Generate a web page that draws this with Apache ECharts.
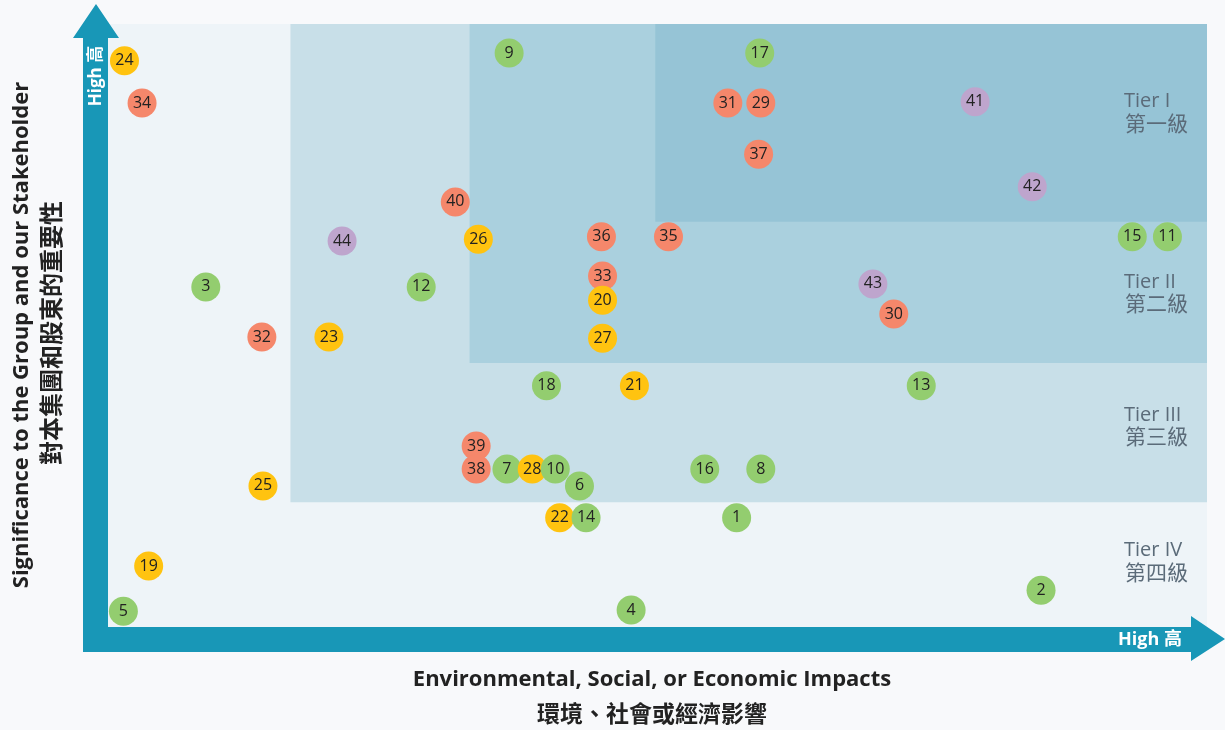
<!DOCTYPE html>
<html><head><meta charset="utf-8">
<script src="https://cdn.jsdelivr.net/npm/echarts@6/dist/echarts.min.js"></script>
<style>html,body{margin:0;padding:0;background:#f8f9fb;}#c{width:1225px;height:730px;}</style>
</head><body><div id="c"></div>
<script>
// Topic numbers, in drawing order (later ones sit on top)
const topicIds = [24,34,9,17,31,29,41,37,42,40,44,26,36,35,15,11,3,12,33,20,43,30,32,23,27,18,21,13,39,38,7,28,10,6,16,8,25,22,14,1,19,2,5,4];
// Impact (x, 0-100) and significance (y, 0-100)
const impactX = [1.5,3.1,36.5,59.3,56.4,59.4,78.9,59.2,84.1,31.6,21.3,33.7,44.9,51.0,93.2,96.4,8.9,28.5,45.0,45.0,69.6,71.5,14.0,20.1,45.0,39.9,47.9,74.0,33.5,33.5,36.3,38.6,40.7,42.9,54.3,59.4,14.1,41.1,43.5,57.2,3.7,84.9,1.4,47.6];
const significanceY = [93.9,86.9,95.2,95.2,86.9,86.9,87.1,78.4,73.0,70.5,64.0,64.3,64.7,64.7,64.7,64.7,56.4,56.4,58.2,54.2,56.9,51.9,48.1,48.1,47.9,40.0,40.0,40.0,30.0,26.2,26.2,26.2,26.2,23.4,26.2,26.2,23.4,18.1,18.1,18.1,10.1,6.1,2.6,2.8];
// Category groups
const groupNames = ['green','yellow','red','purple'];
const groupColors = ['#93cd6f','#ffc310','#f5876b','#bea5cd'];
const groupRanges = [[1,18],[19,28],[29,40],[41,44]];
// Tier boundaries (lower-left corner of each tier zone, zones extend to top-right)
const tierNames = ['Tier IV','Tier III','Tier II','Tier I'];
const tierNamesZh = ['第四級','第三級','第二級','第一級'];
const tierX = [0, 16.6, 32.9, 49.8];
const tierY = [0, 20.7, 43.8, 67.2];
const tierColors = ['#eef4f8','#c8dfe8','#aad0de','#96c4d6'];
// Axis titles
const xTitle = 'Environmental, Social, or Economic Impacts';
const xTitleZh = '環境、社會或經濟影響';
const yTitle = 'Significance to the Group and our Stakeholder';
const yTitleZh = '對本集團和股東的重要性';
const highLabel = 'High 高';

function groupOf(id){for(let g=0;g<groupRanges.length;g++){if(id>=groupRanges[g][0]&&id<=groupRanges[g][1])return g;}return 0;}
const points = topicIds.map((id,i)=>({value:[impactX[i],significanceY[i]],name:String(id),itemStyle:{color:groupColors[groupOf(id)],opacity:1}}));
const tierAreas = tierX.map((x,i)=>[{xAxis:x,yAxis:tierY[i],itemStyle:{color:tierColors[i],opacity:1}},{xAxis:100,yAxis:100}]);

const chart = echarts.init(document.getElementById('c'));
const F = '"Open Sans","Noto Sans","Noto Sans CJK TC",sans-serif';
const AC = '#1897b7';
const tierLabelY = [[550,574],[415,438],[282,305],[101,125]];
const graphics = [
  {type:'polygon',z:10,shape:{points:[[83,652],[83,38],[73,38],[96,4],[119,38],[108,38],[108,627],[1191,627],[1191,616],[1225,639],[1191,661],[1191,652]]},style:{fill:AC}},
  {type:'text',z:11,x:96,y:76,rotation:Math.PI/2,style:{text:highLabel,fill:'#fff',font:'bold 17px '+F,textAlign:'center',textVerticalAlign:'middle'}},
  {type:'text',z:11,x:1150,y:640,style:{text:highLabel,fill:'#fff',font:'bold 18px '+F,textAlign:'center',textVerticalAlign:'middle'}},
  {type:'text',x:652,y:680,style:{text:xTitle,fill:'#222',font:'bold 22px '+F,textAlign:'center',textVerticalAlign:'middle'}},
  {type:'text',x:652,y:715,style:{text:xTitleZh,fill:'#222',font:'bold 23px '+F,textAlign:'center',textVerticalAlign:'middle'}},
  {type:'text',x:22,y:335,rotation:Math.PI/2,style:{text:yTitle,fill:'#222',font:'bold 22px '+F,textAlign:'center',textVerticalAlign:'middle'}},
  {type:'text',x:53,y:333,rotation:Math.PI/2,style:{text:yTitleZh,fill:'#222',font:'bold 24px '+F,textAlign:'center',textVerticalAlign:'middle'}}
];
tierNames.forEach((t,i)=>{
  graphics.push({type:'text',z:5,x:1124,y:tierLabelY[i][0],style:{text:t,fill:'#5b6b79',font:'20px '+F,textVerticalAlign:'middle'}});
  graphics.push({type:'text',z:5,x:1125,y:tierLabelY[i][1],style:{text:tierNamesZh[i],fill:'#5b6b79',font:'21px '+F,textVerticalAlign:'middle'}});
});

chart.setOption({
  backgroundColor:'#f8f9fb',
  animation:false,
  grid:{left:108,top:24,width:1099,height:603},
  xAxis:{type:'value',min:0,max:100,show:false},
  yAxis:{type:'value',min:0,max:100,show:false},
  series:[
    {type:'scatter',data:[],z:1,silent:true,markArea:{silent:true,data:tierAreas}},
    {type:'scatter',z:3,symbolSize:29,data:points,
     label:{show:true,formatter:'{b}',color:'#222',fontSize:16,fontFamily:F}}
  ],
  graphic:graphics
});
</script></body></html>
